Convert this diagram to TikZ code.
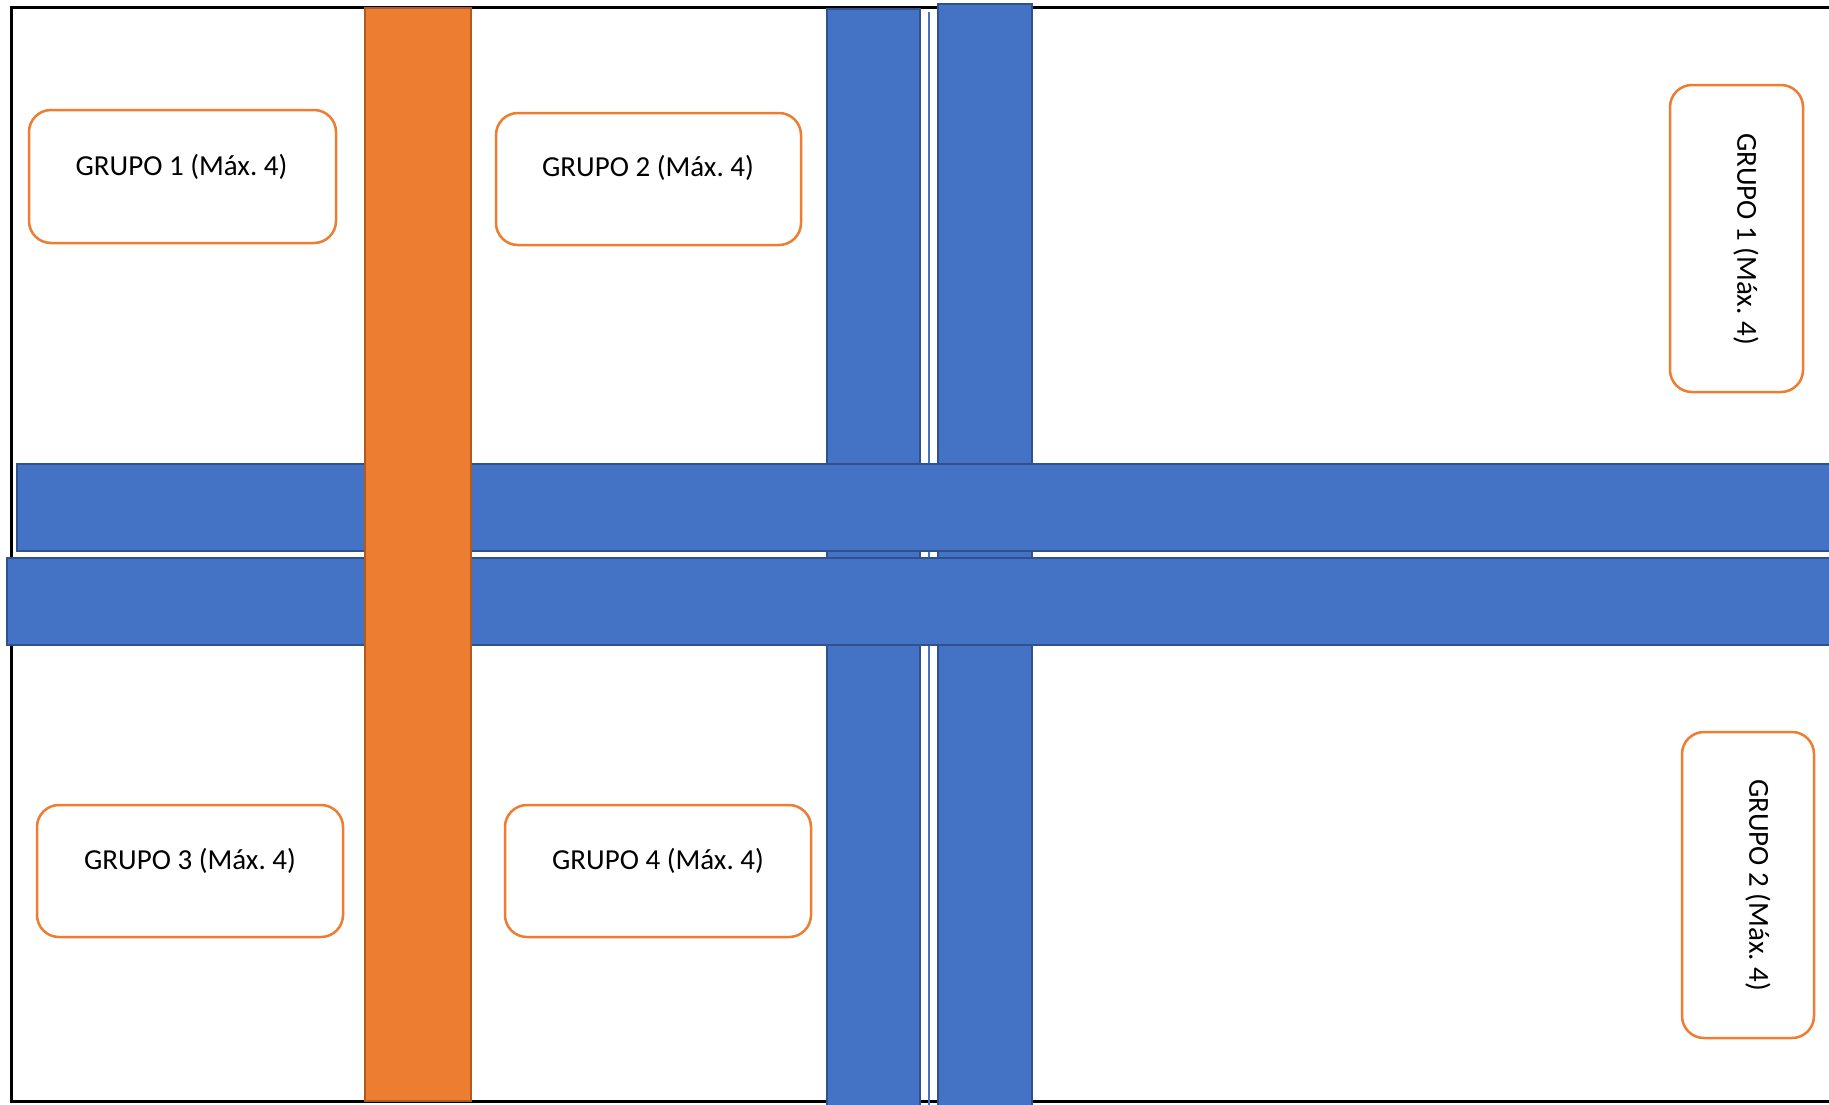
\documentclass[tikz,border=0pt]{standalone}
\usepackage{fontspec}
\setmainfont{Carlito}
\frenchspacing
\definecolor{bfill}{HTML}{4472C4}
\definecolor{bdraw}{HTML}{2F528F}
\definecolor{ofill}{HTML}{ED7D31}
\definecolor{odraw}{HTML}{AE5A21}
\tikzset{
  bluebar/.style={fill=bfill, draw=bdraw, line width=2pt},
  orangebar/.style={fill=ofill, draw=odraw, line width=2pt},
  gbox/.style={draw=ofill, fill=white, line width=2.5pt, rounded corners=22pt, inner sep=0pt},
  gtext/.style={font=\fontsize{29}{34}\selectfont, inner sep=0pt, text=black},
}
\begin{document}
\begin{tikzpicture}[x=1pt,y=-1pt]
\useasboundingbox (0,0) rectangle (1829,1104);
\clip (0,0) rectangle (1829,1104);
\fill[white] (0,0) rectangle (1829,1104);
% outer frame
\draw[black, line width=3pt] (11,7) rectangle (1845,1101);
% vertical blue bars and thin line
\draw[bfill, line width=1.5pt] (929,12) -- (929,1110);
\draw[bluebar] (827,9) rectangle (920,1110);
\draw[bluebar] (938,4) rectangle (1032,1110);
% horizontal blue bars
\draw[bluebar] (17,464) rectangle (1845,551);
\draw[bluebar] (7,558) rectangle (1845,645);
% orange bar
\draw[orangebar] (365,8) rectangle (471,1101);
% group boxes
\node[gbox, minimum width=307pt, minimum height=133pt] (b1) at (182.5,176.5) {};
\node[gtext] (t1) at (181.5,167) {GRUPO 1 (Máx. 4)};
\node[gbox, minimum width=305pt, minimum height=132pt] (b2) at (648.5,179) {};
\node[gtext] (t2) at (648,168) {GRUPO 2 (Máx. 4)};
\node[gbox, minimum width=306pt, minimum height=132pt] (b3) at (190,871) {};
\node[gtext] (t3) at (190,861) {GRUPO 3 (Máx. 4)};
\node[gbox, minimum width=306pt, minimum height=132pt] (b4) at (658,871) {};
\node[gtext] (t4) at (658,861) {GRUPO 4 (Máx. 4)};
\node[gbox, minimum width=133pt, minimum height=307pt] (b5) at (1736.5,238.5) {};
\node[gtext, rotate=-90] (t5) at (1746,239) {GRUPO 1 (Máx. 4)};
\node[gbox, minimum width=132pt, minimum height=306pt] (b6) at (1748,885) {};
\node[gtext, rotate=-90] (t6) at (1758,885) {GRUPO 2 (Máx. 4)};
\end{tikzpicture}
\end{document}
